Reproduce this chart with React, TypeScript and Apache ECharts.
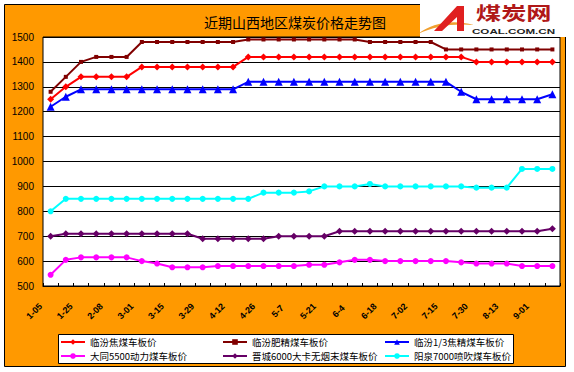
import React, { useEffect, useRef } from 'react';
import * as echarts from 'echarts';

const categories = [
  '1-05', '1-15', '1-25', '2-01', '2-08', '2-22', '3-01', '3-08', '3-15', '3-22',
  '3-29', '4-05', '4-12', '4-19', '4-26', '5-01', '5-7', '5-14', '5-21', '5-28',
  '6-4', '6-11', '6-18', '6-25', '7-02', '7-09', '7-15', '7-23', '7-30', '8-06',
  '8-13', '8-20', '9-01', '9-08',
];

const linfenJiao = [
  1250, 1300, 1340, 1340, 1340, 1340, 1380, 1380, 1380, 1380,
  1380, 1380, 1380, 1420, 1420, 1420, 1420, 1420, 1420, 1420,
  1420, 1420, 1420, 1420, 1420, 1420, 1420, 1420, 1400, 1400,
  1400, 1400, 1400, 1400,
];
const linfenFei = [
  1280, 1340, 1400, 1420, 1420, 1420, 1480, 1480, 1480, 1480,
  1480, 1480, 1480, 1490, 1490, 1490, 1490, 1490, 1490, 1490,
  1490, 1480, 1480, 1480, 1480, 1480, 1450, 1450, 1450, 1450,
  1450, 1450, 1450, 1450,
];
const linfen13 = [
  1220, 1260, 1290, 1290, 1290, 1290, 1290, 1290, 1290, 1290,
  1290, 1290, 1290, 1320, 1320, 1320, 1320, 1320, 1320, 1320,
  1320, 1320, 1320, 1320, 1320, 1320, 1320, 1280, 1250, 1250,
  1250, 1250, 1250, 1270,
];
const datong = [
  545, 605, 615, 615, 615, 615, 600, 590, 575, 575,
  575, 580, 580, 580, 580, 580, 580, 585, 585, 595,
  605, 605, 600, 600, 600, 600, 600, 595, 590, 590,
  590, 580, 580, 580,
];
const jincheng = [
  700, 710, 710, 710, 710, 710, 710, 710, 710, 710,
  690, 690, 690, 690, 690, 700, 700, 700, 700, 720,
  720, 720, 720, 720, 720, 720, 720, 720, 720, 720,
  720, 720, 720, 730,
];
const yangquan = [
  800, 850, 850, 850, 850, 850, 850, 850, 850, 850,
  850, 850, 850, 850, 875, 875, 875, 880, 900, 900,
  900, 910, 900, 900, 900, 900, 900, 900, 895, 895,
  895, 970, 970, 970,
];

const seriesNames = [
  '临汾焦煤车板价',
  '临汾肥精煤车板价',
  '临汾1/3焦精煤车板价',
  '大同5500动力煤车板价',
  '晋城6000大卡无烟末煤车板价',
  '阳泉7000喷吹煤车板价',
];
const seriesData = [linfenJiao, linfenFei, linfen13, datong, jincheng, yangquan];
const seriesColors = ['#ff0000', '#800000', '#0000ff', '#ff00ff', '#660066', '#00ffff'];
const seriesSymbols = ['diamond', 'rect', 'triangle', 'circle', 'diamond', 'circle'];
const seriesSymbolSizes = [7, 4, 8, 6, 7, 6];

const titleText = '近期山西地区煤炭价格走势图';

export default function App() {
  const ref = useRef<HTMLDivElement>(null);

  useEffect(() => {
    if (!ref.current) return;
    echarts.graphic.registerShape(
      'logoSwoosh',
      echarts.graphic.extendPath('M0 30 C 14 19, 34 15, 56 21 C 36 19, 16 22, 0 30 Z', {})
    );
    echarts.graphic.registerShape(
      'logoA',
      echarts.graphic.extendPath('M33 2 L40 2 L40 27 L33 27 L33 13 L18 27 L10 27 Z', {})
    );
    const chart = echarts.init(ref.current, undefined, { renderer: 'svg' });

    const legendFont = { fontSize: 9.5, lineHeight: 12, color: '#000', fontFamily: 'Noto Sans CJK SC' };
    const legendCommon = {
      orient: 'vertical' as const,
      top: 336,
      itemWidth: 24,
      itemHeight: 7,
      itemGap: 2,
      textStyle: legendFont,
      padding: 0,
    };

    chart.setOption({
      animation: false,
      backgroundColor: '#ffffff',
      title: {
        text: titleText,
        left: 199,
        top: 10,
        textStyle: { fontSize: 14, fontWeight: 'normal', color: '#000', fontFamily: 'Noto Sans CJK SC' },
      },
      graphic: [
        {
          type: 'rect',
          z: -100,
          shape: { x: 4.5, y: 4.5, width: 561, height: 362 },
          style: { fill: '#ff9900', stroke: '#000', lineWidth: 1 },
        },
        {
          type: 'rect',
          z: 50,
          shape: { x: 420, y: 0, width: 154, height: 37 },
          style: { fill: '#ffffff' },
        },
        {
          type: 'logoSwoosh',
          z: 51,
          x: 418,
          y: 4,
          style: { fill: '#f0a030' },
        },
        {
          type: 'logoA',
          z: 52,
          x: 424,
          y: 4,
          style: { fill: '#e02020' },
        },
        {
          type: 'text',
          z: 53,
          x: 476,
          y: 2,
          scaleX: 1.4,
          style: {
            text: '煤炭网',
            fontSize: 18,
            lineHeight: 20,
            fontWeight: 'bold',
            fill: '#b01818',
            fontFamily: 'Noto Sans CJK SC',
          },
        },
        {
          type: 'text',
          z: 53,
          x: 472,
          y: 27,
          scaleX: 1.45,
          style: {
            text: 'COAL.COM.CN',
            fontSize: 8,
            lineHeight: 9,
            fontWeight: 'bold',
            fill: '#222',
            fontFamily: 'Arial',
          },
        },
        {
          type: 'rect',
          z: -50,
          shape: { x: 58.5, y: 334.5, width: 455, height: 29 },
          style: { fill: '#ffffff', stroke: '#000', lineWidth: 1 },
        },
      ],
      legend: [
        { ...legendCommon, left: 60, data: [seriesNames[0], seriesNames[3]] },
        { ...legendCommon, left: 222, data: [seriesNames[1], seriesNames[4]] },
        { ...legendCommon, left: 384, data: [seriesNames[2], seriesNames[5]] },
      ],
      grid: {
        left: 43,
        top: 37,
        width: 517,
        height: 249,
        show: true,
        backgroundColor: '#ffffff',
        borderColor: '#000',
        borderWidth: 1,
      },
      xAxis: {
        type: 'category',
        data: categories,
        boundaryGap: true,
        axisLine: { lineStyle: { color: '#000', width: 1 } },
        axisTick: { show: true, inside: true, length: 3, interval: 0, lineStyle: { color: '#000' } },
        axisLabel: {
          interval: 1,
          rotate: 45,
          align: 'center',
          verticalAlign: 'middle',
          padding: [0, 46, 0, 0],
          margin: 9,
          fontSize: 9,
          fontWeight: 'bold',
          color: '#000',
          fontFamily: 'Arial',
        },
      },
      yAxis: {
        type: 'value',
        min: 500,
        max: 1500,
        interval: 100,
        axisLine: { show: false },
        axisTick: { show: false },
        splitLine: { lineStyle: { color: '#000', width: 1 } },
        axisLabel: {
          fontSize: 10,
          color: '#000',
          margin: 9,
          fontFamily: 'Arial',
          formatter: (v: number) => String(v),
        },
      },
      series: seriesNames.map((name, i) => ({
        name,
        type: 'line',
        data: seriesData[i],
        symbol: seriesSymbols[i],
        symbolSize: seriesSymbolSizes[i],
        showSymbol: true,
        lineStyle: { width: 2, color: seriesColors[i] },
        itemStyle: { color: seriesColors[i] },
      })),
    });

    return () => chart.dispose();
  }, []);

  return (
    <div
      ref={ref}
      style={{ position: 'fixed', left: 0, top: 0, width: 574, height: 372 }}
    />
  );
}
